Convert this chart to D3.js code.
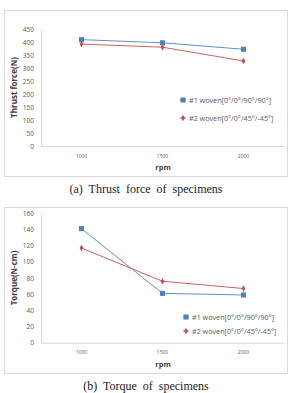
<!DOCTYPE html>
<html>
<head>
<meta charset="utf-8">
<script src="https://cdn.jsdelivr.net/npm/d3@7"></script>
<style>
  body { margin: 0; background: #fff; }
  svg { display: block; }
  .tick text { font-family: "Open Sans", "Liberation Sans", sans-serif; fill: #595959; }
</style>
</head>
<body>
<div id="chart"></div>
<script>
// data
const rpm = ['1000', '1500', '2000'];
const seriesNames = ['#1 woven[0\u00b0/0\u00b0/90\u00b0/90\u00b0]', '#2 woven[0\u00b0/0\u00b0/45\u00b0/-45\u00b0]'];
const thrust1 = [409, 397, 372];
const thrust2 = [392, 380, 327];
const torque1 = [141, 61, 59];
const torque2 = [117, 76, 67];
const thrustTicks = [0, 50, 100, 150, 200, 250, 300, 350, 400, 450];
const torqueTicks = [0, 20, 40, 60, 80, 100, 120, 140, 160];

const colors = ['#4f81bd', '#c0504d'];
const W = 291, H = 393;
const sans = '"Open Sans", "Liberation Sans", sans-serif';

const svg = d3.select('#chart').append('svg')
    .attr('width', W).attr('height', H);

function panel(opt) {
    const g = svg.append('g');

    // frame
    g.append('rect')
        .attr('x', 4.5).attr('y', opt.top + 0.5)
        .attr('width', 283).attr('height', opt.frameH)
        .attr('fill', '#fff').attr('stroke', '#d9d9d9');

    const x = d3.scaleBand().domain(rpm).range([41, 284]);
    const y = d3.scaleLinear().domain([0, opt.max]).range([opt.y0, opt.y1]);

    // y axis
    const ya = g.append('g').attr('transform', 'translate(41,0)')
        .call(d3.axisLeft(y).tickValues(opt.ticks).tickSize(0).tickPadding(7));
    ya.select('.domain').attr('stroke', '#d9d9d9');
    ya.selectAll('text').attr('font-size', '6.5px');

    // x axis
    const xa = g.append('g').attr('transform', `translate(0,${opt.y0})`)
        .call(d3.axisBottom(x).tickSize(0).tickPadding(8));
    xa.select('.domain').attr('stroke', '#d9d9d9');
    xa.selectAll('text').attr('font-size', '5px');

    // axis titles
    g.append('text')
        .attr('x', 163).attr('y', opt.y0 + 24)
        .attr('text-anchor', 'middle')
        .attr('font-family', sans)
        .attr('font-weight', 'bold').attr('font-size', '7.5px').attr('fill', '#404040')
        .text('rpm');

    g.append('text')
        .attr('transform', `translate(14,${(opt.y0 + opt.y1) / 2}) rotate(-90)`)
        .attr('dy', '0.35em')
        .attr('text-anchor', 'middle')
        .attr('font-family', sans)
        .attr('font-weight', 'bold').attr('font-size', '8px').attr('fill', '#404040')
        .text(opt.title);

    const cx = d => x(d) + x.bandwidth() / 2;
    const line = d3.line().x((d, i) => cx(rpm[i])).y(d => y(d));

    opt.series.forEach((vals, s) => {
        g.append('path')
            .datum(vals)
            .attr('d', line)
            .attr('fill', 'none')
            .attr('stroke', colors[s])
            .attr('stroke-width', 0.9);
    });

    // markers
    const sym1 = d3.symbol().type(d3.symbolSquare).size(26);
    const sym2 = d3.symbol().type(d3.symbolDiamond).size(12);
    opt.series.forEach((vals, s) => {
        g.selectAll(null).data(vals).enter().append('path')
            .attr('transform', (d, i) => `translate(${cx(rpm[i])},${y(d)})`)
            .attr('d', s === 0 ? sym1 : sym2)
            .attr('fill', colors[s]);
    });

    // legend
    seriesNames.forEach((name, s) => {
        const ly = opt.legY + s * opt.legGap;
        g.append('line')
            .attr('x1', opt.legX - 3).attr('x2', opt.legX + 3)
            .attr('y1', ly).attr('y2', ly)
            .attr('stroke', colors[s]).attr('stroke-width', 0.9);
        g.append('path')
            .attr('transform', `translate(${opt.legX},${ly})`)
            .attr('d', s === 0 ? sym1 : sym2)
            .attr('fill', colors[s]);
        g.append('text')
            .attr('x', opt.legX + 6).attr('y', ly).attr('dy', '0.35em')
            .attr('font-family', sans)
            .attr('font-size', '7.2px').attr('fill', '#595959')
            .text(name);
    });

    // caption
    svg.append('text')
        .attr('x', 146).attr('y', opt.capY)
        .attr('text-anchor', 'middle')
        .attr('font-family', '"Liberation Serif", "DejaVu Serif", serif')
        .attr('font-size', '12px').attr('fill', '#222')
        .attr('word-spacing', '3px')
        .text(opt.caption);
}

panel({
    top: 10, frameH: 166, y0: 146, y1: 29, max: 450,
    ticks: thrustTicks, series: [thrust1, thrust2],
    title: 'Thrust force(N)', legX: 183, legY: 100, legGap: 18,
    capY: 193, caption: '(a) Thrust force of specimens'
});

panel({
    top: 207, frameH: 166, y0: 342.7, y1: 213.3, max: 160,
    ticks: torqueTicks, series: [torque1, torque2],
    title: 'Torque(N-cm)', legX: 186, legY: 317, legGap: 14,
    capY: 390, caption: '(b) Torque of specimens'
});
</script>
</body>
</html>
